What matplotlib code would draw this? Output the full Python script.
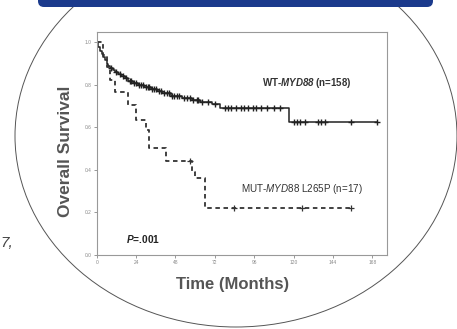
import numpy as np
import matplotlib
matplotlib.use("Agg")
import matplotlib.pyplot as plt
from matplotlib.patches import Ellipse, FancyBboxPatch

plt.rcParams["font.family"] = ["Liberation Sans", "DejaVu Sans"]
plt.rcParams["mathtext.fontset"] = "custom"
plt.rcParams["mathtext.rm"] = "Liberation Sans"
plt.rcParams["mathtext.it"] = "Liberation Sans:italic"
plt.rcParams["mathtext.bf"] = "Liberation Sans:bold"
plt.rcParams["mathtext.bfit"] = "Liberation Sans:italic:bold"

# Kaplan-Meier steps (months, survival)
wt_times = [0, 1, 2, 3, 4, 5, 6, 7, 8, 10, 11, 13, 15, 17, 19, 22, 25, 29,
            33, 37, 40, 45, 52, 58, 63, 70, 75, 117]
wt_surv = [1.0, 0.98, 0.96, 0.945, 0.93, 0.915, 0.90, 0.89, 0.88, 0.87, 0.86,
           0.85, 0.84, 0.83, 0.82, 0.81, 0.80, 0.79, 0.78, 0.77, 0.76, 0.75,
           0.74, 0.73, 0.72, 0.71, 0.69, 0.625]
wt_end = 171
wt_censor = [9, 12, 14, 16, 18, 20, 21, 23, 24, 26, 27, 28, 30, 31, 32, 34,
             35, 36, 38, 39, 41, 43, 44, 46, 47, 49, 50, 53, 55, 57, 59, 61,
             62, 64, 68, 72, 78, 80, 82, 85, 88, 90, 92, 95, 97, 100, 104,
             108, 112, 120, 122, 124, 127, 135, 137, 139, 155, 171]

mut_times = [0, 4, 6, 8, 11, 19, 24, 30, 32, 42, 58, 60, 66]
mut_surv = [1.0, 0.941, 0.882, 0.824, 0.765, 0.706, 0.636, 0.59, 0.505,
            0.443, 0.39, 0.362, 0.22]
mut_end = 155
mut_censor = [57, 84, 125, 155]

x_ticks = [0, 24, 48, 72, 96, 120, 144, 168]
y_ticks = [0.0, 0.2, 0.4, 0.6, 0.8, 1.0]


def km_value(times, surv, t):
    idx = np.searchsorted(times, t, side="right") - 1
    return np.asarray(surv)[idx]


W, H = 457, 329
fig = plt.figure(figsize=(W / 100, H / 100), dpi=100)

# decoration layer in pixel coordinates
bg = fig.add_axes([0, 0, 1, 1], zorder=0)
bg.set_xlim(0, W)
bg.set_ylim(H, 0)
bg.axis("off")
bg.add_patch(Ellipse((236, 136), 442, 382, fill=False, ec="#555555", lw=0.7))
bg.add_patch(FancyBboxPatch((38, -20), 395, 27, boxstyle="round,pad=0,rounding_size=6",
                            fc="#1b3a8c", ec="none", zorder=3))
bg.text(0, 243, "7,", fontsize=11, style="italic", color="#444444", va="center")

ax = fig.add_axes([96.7 / W, 1 - 255 / H, 290.3 / W, 223.3 / H], zorder=1)
ax.set_facecolor("white")

ax.step(wt_times + [wt_end], wt_surv + [wt_surv[-1]], where="post",
        color="#222222", lw=1.1)
ax.plot(wt_censor, km_value(wt_times, wt_surv, wt_censor), "+",
        color="#222222", ms=4, mew=1.0)

ax.step(mut_times + [mut_end], mut_surv + [mut_surv[-1]], where="post",
        color="#333333", lw=1.3, dashes=(2.5, 2))
ax.plot(mut_censor, km_value(mut_times, mut_surv, mut_censor), "+",
        color="#333333", ms=4, mew=0.9)

ax.set_xlim(0, 177)
ax.set_ylim(0, 1.05)
ax.set_xticks(x_ticks)
ax.set_yticks(y_ticks)
ax.set_xticklabels([str(t) for t in x_ticks])
ax.set_yticklabels([f"{v:.1f}" for v in y_ticks])
ax.tick_params(labelsize=3.5, labelcolor="#888888", color="#888888",
               length=2, width=0.6, pad=1.5)
for s in ax.spines.values():
    s.set_color("#999999")
    s.set_linewidth(0.8)

ax.text(101, 0.81, r"WT-$\mathbfit{MYD88}$ (n=158)", fontsize=7,
        fontweight="bold", color="#333333", va="center")
ax.text(88, 0.31, r"MUT-$\mathit{MYD88}$ L265P (n=17)", fontsize=7.1,
        color="#333333", va="center")
ax.text(18, 0.074, r"$\mathbfit{P}$=.001", fontsize=7.3, fontweight="bold",
        color="#222222", va="center")

fig.text(65 / W, 1 - 151 / H, "Overall Survival", rotation=90, fontsize=12.5,
         fontweight="bold", color="#555555", ha="center", va="center")
fig.text(233 / W, 1 - 285 / H, "Time (Months)", fontsize=12,
         fontweight="bold", color="#555555", ha="center", va="center")

fig.savefig("out.png", dpi=100)
